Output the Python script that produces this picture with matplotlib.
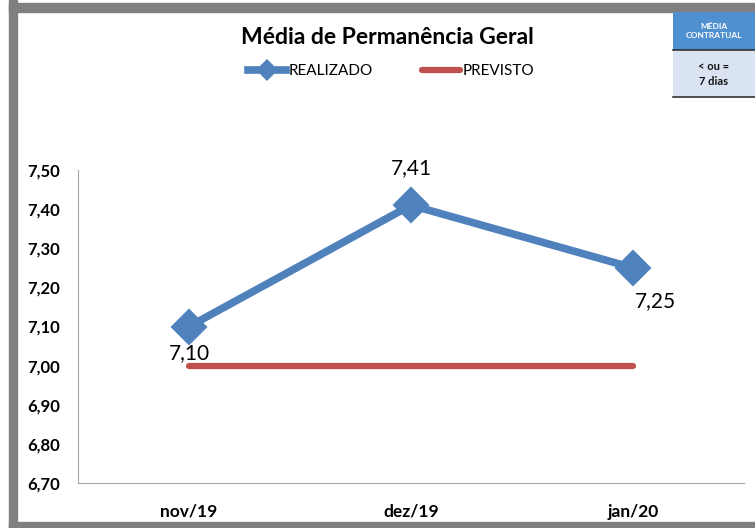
import matplotlib.pyplot as plt
from matplotlib.patches import Rectangle
from matplotlib.lines import Line2D

# Data
months = ["nov/19", "dez/19", "jan/20"]
realizado = [7.10, 7.41, 7.25]
previsto = [7.00, 7.00, 7.00]
yticks = [6.70, 6.80, 6.90, 7.00, 7.10, 7.20, 7.30, 7.40, 7.50]

BLUE = "#4F81BD"
RED = "#C0504D"
plt.rcParams['font.family'] = ['Lato', 'DejaVu Sans']

fig = plt.figure(figsize=(7.55, 5.28), dpi=100)
fig.patch.set_facecolor("white")

# Gray frame (left, top, bottom)
fig.patches.append(Rectangle((9/755, 0), 8/755, 1, transform=fig.transFigure, color="#808080", zorder=0))
fig.patches.append(Rectangle((9/755, 1 - 12/528), 1, 9/528, transform=fig.transFigure, color="#808080", zorder=0))
fig.patches.append(Rectangle((9/755, 0), 1, 6/528, transform=fig.transFigure, color="#808080", zorder=0))

ax = fig.add_axes([78/755, 45/528, 666/755, 313/528])
x = list(range(len(months)))

ax.plot(x, previsto, color=RED, lw=4.5, solid_capstyle="round", zorder=2)
ax.plot(x, realizado, color=BLUE, lw=5.5, marker="D", markersize=17,
        markeredgewidth=1.5, markeredgecolor=BLUE, solid_joinstyle="round", zorder=3)

# Data labels (offsets in points)
offsets = [(0, -19), (0, 27), (16, -24)]
for xi, v, off in zip(x, realizado, offsets):
    ax.annotate(f"{v:.2f}".replace(".", ","), (xi, v), xytext=off, textcoords="offset points",
                ha="center", va="center", fontsize=15, color="black")

ax.set_xlim(-0.5, 2.5)
ax.set_ylim(6.70, 7.50)
ax.set_yticks(yticks)
ax.set_yticklabels([f"{t:.2f}".replace(".", ",") for t in yticks], fontweight="bold", fontsize=12)
ax.set_xticks(x)
ax.set_xticklabels(months, fontweight="bold", fontsize=12.5)
ax.tick_params(axis="both", length=0)
ax.tick_params(axis="y", pad=13)
ax.tick_params(axis="x", pad=15)
ax.spines[['top', 'right']].set_visible(False)
ax.spines['left'].set_color("#A6A6A6")
ax.spines['bottom'].set_color("#A6A6A6")

# Title & legend
fig.text(387/755, 1 - 38/528, "Média de Permanência Geral", ha="center", va="center",
         fontsize=16.5, fontweight="bold")
handles = [Line2D([], [], color=BLUE, lw=5.5, marker="D", markersize=11, markeredgewidth=0),
           Line2D([], [], color=RED, lw=4.5, solid_capstyle="round")]
fig.legend(handles, ["REALIZADO", "PREVISTO"], loc="center", bbox_to_anchor=(391/755, 1 - 71/528),
           ncol=2, frameon=False, fontsize=11, handlelength=2.5, handletextpad=0.15, columnspacing=3.2)

# Contract box (top right)
fig.patches.append(Rectangle((673/755, 1 - 50/528), 82/755, 38/528, transform=fig.transFigure,
                             facecolor="#4F90D0", edgecolor="none", zorder=1))
fig.patches.append(Rectangle((673/755, 1 - 97/528), 82/755, 47/528, transform=fig.transFigure,
                             facecolor="#D9E3F1", edgecolor="none", zorder=1))
fig.add_artist(Line2D([673/755, 1], [1 - 50/528] * 2, transform=fig.transFigure, color="#333333", lw=1.2))
fig.add_artist(Line2D([673/755, 1], [1 - 97/528] * 2, transform=fig.transFigure, color="#333333", lw=1.2))
fig.text(714/755, 1 - 31/528, "MÉDIA\nCONTRATUAL", ha="center", va="center", fontsize=6,
         fontweight="bold", color="white", linespacing=1.3)
fig.text(714/755, 1 - 74/528, "< ou =\n7 dias", ha="center", va="center", fontsize=8,
         fontweight="bold", color="#111111", linespacing=1.4)

fig.savefig("out.png", dpi=100)
